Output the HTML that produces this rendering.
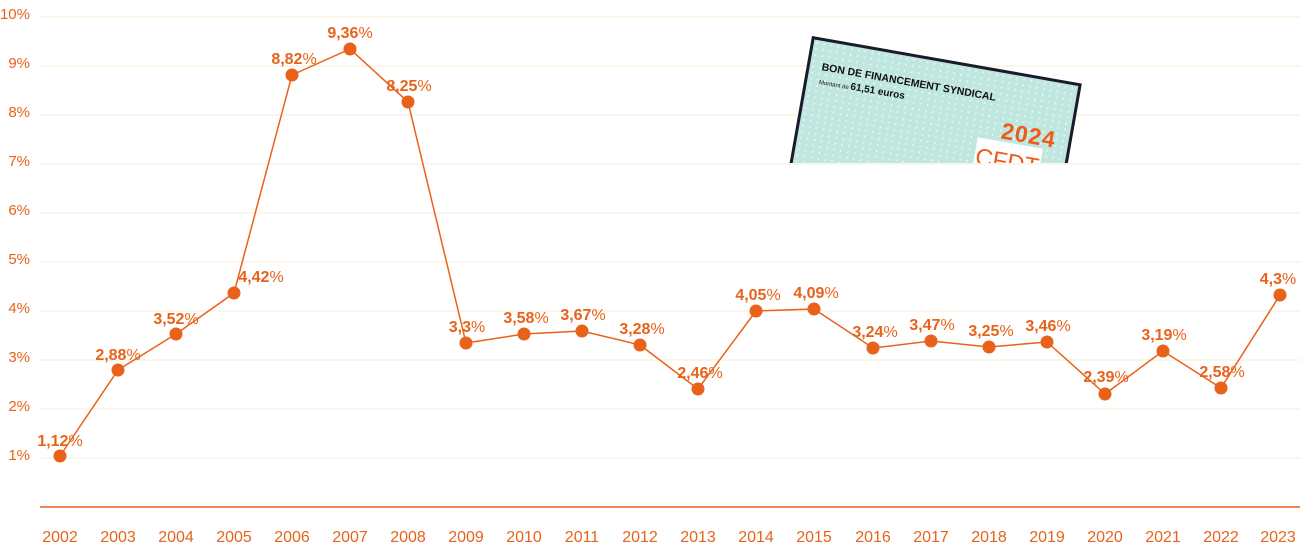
<!DOCTYPE html>
<html><head><meta charset="utf-8"><style>
body{margin:0;background:#fff;width:1300px;height:546px;overflow:hidden;position:relative;font-family:"Liberation Sans",sans-serif}
svg{position:absolute;left:0;top:0}
.clip{position:absolute;left:760px;top:0;width:340px;height:163px;overflow:hidden}
.card{position:absolute;left:52px;top:36px;width:268px;height:220px;background:#bfe6df;border:3px solid #1a1a2a;transform-origin:0 0;transform:rotate(10deg);
background-image:radial-gradient(#e3f5f1 1px,transparent 1.3px);background-size:7px 6px}
.t1{position:absolute;left:12px;top:20px;font-weight:bold;font-size:10.5px;color:#111}
.t2{position:absolute;left:12px;top:35px;font-size:6px;color:#111}
.t2 b{font-size:10px}
.yr{position:absolute;left:200px;top:44px;font-weight:bold;font-size:23px;color:#f05a1a;letter-spacing:1px}
.logo{position:absolute;left:178px;top:68px;width:66px;height:60px;background:#fff;color:#f05a1a;font-size:24px;text-align:center;line-height:40px}
</style></head><body>
<svg width="1300" height="546" font-family="Liberation Sans, sans-serif">
<g stroke="#f7ecd6" stroke-width="1">
<line x1="40" x2="1300" y1="17" y2="17"/><line x1="40" x2="1300" y1="66" y2="66"/><line x1="40" x2="1300" y1="115" y2="115"/><line x1="40" x2="1300" y1="164" y2="164"/><line x1="40" x2="1300" y1="213" y2="213"/><line x1="40" x2="1300" y1="262" y2="262"/><line x1="40" x2="1300" y1="311" y2="311"/><line x1="40" x2="1300" y1="360" y2="360"/><line x1="40" x2="1300" y1="409" y2="409"/><line x1="40" x2="1300" y1="458" y2="458"/>
</g>
<line x1="40" x2="1300" y1="507" y2="507" stroke="#e8621a" stroke-width="1.5"/>
<g fill="#e8621a" font-size="15" text-anchor="end">
<text x="30" y="19">10%</text><text x="30" y="68">9%</text><text x="30" y="117">8%</text><text x="30" y="166">7%</text><text x="30" y="215">6%</text><text x="30" y="264">5%</text><text x="30" y="313">4%</text><text x="30" y="362">3%</text><text x="30" y="411">2%</text><text x="30" y="460">1%</text>
</g>
<g fill="#e8621a" font-size="16" text-anchor="middle">
<text x="60" y="542">2002</text><text x="118" y="542">2003</text><text x="176" y="542">2004</text><text x="234" y="542">2005</text><text x="292" y="542">2006</text><text x="350" y="542">2007</text><text x="408" y="542">2008</text><text x="466" y="542">2009</text><text x="524" y="542">2010</text><text x="582" y="542">2011</text><text x="640" y="542">2012</text><text x="698" y="542">2013</text><text x="756" y="542">2014</text><text x="814" y="542">2015</text><text x="873" y="542">2016</text><text x="931" y="542">2017</text><text x="989" y="542">2018</text><text x="1047" y="542">2019</text><text x="1105" y="542">2020</text><text x="1163" y="542">2021</text><text x="1221" y="542">2022</text><text x="1278" y="542">2023</text>
</g>
<polyline fill="none" stroke="#e8621a" stroke-width="1.5" points="60,456 118,370 176,334 234,293 292,75 350,49 408,102 466,343 524,334 582,331 640,345 698,389 756,311 814,309 873,348 931,341 989,347 1047,342 1105,394 1163,351 1221,388 1280,295"/>
<g fill="#e8621a">
<circle cx="60" cy="456" r="6.5"/><circle cx="118" cy="370" r="6.5"/><circle cx="176" cy="334" r="6.5"/><circle cx="234" cy="293" r="6.5"/><circle cx="292" cy="75" r="6.5"/><circle cx="350" cy="49" r="6.5"/><circle cx="408" cy="102" r="6.5"/><circle cx="466" cy="343" r="6.5"/><circle cx="524" cy="334" r="6.5"/><circle cx="582" cy="331" r="6.5"/><circle cx="640" cy="345" r="6.5"/><circle cx="698" cy="389" r="6.5"/><circle cx="756" cy="311" r="6.5"/><circle cx="814" cy="309" r="6.5"/><circle cx="873" cy="348" r="6.5"/><circle cx="931" cy="341" r="6.5"/><circle cx="989" cy="347" r="6.5"/><circle cx="1047" cy="342" r="6.5"/><circle cx="1105" cy="394" r="6.5"/><circle cx="1163" cy="351" r="6.5"/><circle cx="1221" cy="388" r="6.5"/><circle cx="1280" cy="295" r="6.5"/>
</g>
<g fill="#e8621a" font-size="16" font-weight="bold" text-anchor="middle">
<text x="60" y="446">1,12<tspan font-weight="normal">%</tspan></text>
<text x="118" y="360">2,88<tspan font-weight="normal">%</tspan></text>
<text x="176" y="324">3,52<tspan font-weight="normal">%</tspan></text>
<text x="261" y="282">4,42<tspan font-weight="normal">%</tspan></text>
<text x="294" y="64">8,82<tspan font-weight="normal">%</tspan></text>
<text x="350" y="38">9,36<tspan font-weight="normal">%</tspan></text>
<text x="409" y="91">8,25<tspan font-weight="normal">%</tspan></text>
<text x="467" y="332">3,3<tspan font-weight="normal">%</tspan></text>
<text x="526" y="323">3,58<tspan font-weight="normal">%</tspan></text>
<text x="583" y="320">3,67<tspan font-weight="normal">%</tspan></text>
<text x="642" y="334">3,28<tspan font-weight="normal">%</tspan></text>
<text x="700" y="378">2,46<tspan font-weight="normal">%</tspan></text>
<text x="758" y="300">4,05<tspan font-weight="normal">%</tspan></text>
<text x="816" y="298">4,09<tspan font-weight="normal">%</tspan></text>
<text x="875" y="337">3,24<tspan font-weight="normal">%</tspan></text>
<text x="932" y="330">3,47<tspan font-weight="normal">%</tspan></text>
<text x="991" y="336">3,25<tspan font-weight="normal">%</tspan></text>
<text x="1048" y="331">3,46<tspan font-weight="normal">%</tspan></text>
<text x="1106" y="382">2,39<tspan font-weight="normal">%</tspan></text>
<text x="1164" y="340">3,19<tspan font-weight="normal">%</tspan></text>
<text x="1222" y="377">2,58<tspan font-weight="normal">%</tspan></text>
<text x="1278" y="284">4,3<tspan font-weight="normal">%</tspan></text>
</g>
</svg>
<div class="clip"><div class="card">
<div class="t1">BON DE FINANCEMENT SYNDICAL</div>
<div class="t2">Montant de <b>61,51 euros</b></div>
<div class="yr">2024</div>
<div class="logo">CFDT</div>
</div></div>
</body></html>
